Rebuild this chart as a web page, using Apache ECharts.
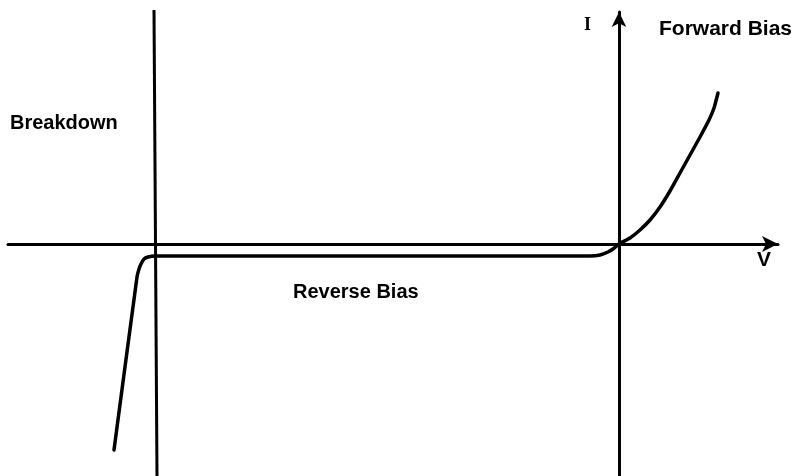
<!DOCTYPE html>
<html>
<head>
<meta charset="utf-8">
<script src="https://cdn.jsdelivr.net/npm/echarts@6/dist/echarts.min.js"></script>
<style>
  html, body { margin: 0; padding: 0; background: #fff; }
  #main { width: 800px; height: 476px; }
</style>
</head>
<body>
<div id="main"></div>
<script type="text/javascript">
// diode I-V curve, units: V to the right, I upward (origin at the I axis)
var curveV = [-50.5, -48.2, -48.0, -47.8, -47.5, -47.1, -46.4, -30.0, -15.0, -5.9, -2.9, -1.9, -1.1, -0.6, 0, 1.1, 2.1, 3.1, 4.1, 5.1, 6.1, 7.1, 8.1, 9.0, 9.5, 9.9];
var curveI = [-20.6, -3.3, -2.5, -2.0, -1.5, -1.3, -1.2, -1.2, -1.2, -1.2, -1.2, -1.1, -0.8, -0.5, 0, 0.6, 1.4, 2.4, 3.7, 5.3, 7.1, 8.9, 10.7, 12.4, 13.6, 15.1];
// breakdown voltage line
var breakdownV = [-46.5, -46.2];
var breakdownI = [23.4, -23.2];

var curveData = curveV.map(function(v, i){ return [v, curveI[i]]; });
var breakdownData = breakdownV.map(function(v, i){ return [v, breakdownI[i]]; });

var myChart = echarts.init(document.getElementById('main'));
var labelFont = '"Liberation Sans", Arial, sans-serif';

myChart.setOption({
    animation: false,
    backgroundColor: '#fff',
    grid: { left: 8, right: 22, top: 12, bottom: 0 },
    xAxis: {
        type: 'value',
        min: -61.1,
        max: 15.9,
        axisLine: {
            onZero: true,
            symbol: ['none', 'arrow'],
            symbolSize: [12, 16],
            lineStyle: { color: '#000', width: 3 }
        },
        axisTick: { show: false },
        axisLabel: { show: false },
        splitLine: { show: false }
    },
    yAxis: {
        type: 'value',
        min: -23.2,
        max: 23.2,
        axisLine: {
            onZero: true,
            symbol: ['none', 'arrow'],
            symbolSize: [11, 15],
            lineStyle: { color: '#000', width: 3 }
        },
        axisTick: { show: false },
        axisLabel: { show: false },
        splitLine: { show: false }
    },
    series: [
        {
            type: 'line',
            data: breakdownData,
            symbol: 'none',
            clip: false,
            lineStyle: { color: '#000', width: 3 }
        },
        {
            type: 'line',
            data: curveData,
            symbol: 'none',
            smooth: 0.15,
            lineStyle: { color: '#000', width: 3.5, cap: 'round' }
        }
    ],
    graphic: [
        { type: 'text', left: 10, top: 113, style: { text: 'Breakdown', font: 'bold 20px ' + labelFont, fill: '#000' } },
        { type: 'text', left: 293, top: 282, style: { text: 'Reverse Bias', font: 'bold 20px ' + labelFont, fill: '#000' } },
        { type: 'text', left: 659, top: 19, style: { text: 'Forward Bias', font: 'bold 21px ' + labelFont, fill: '#000' } },
        { type: 'text', left: 584, top: 16, style: { text: 'I', font: 'bold 18px "Liberation Serif", serif', fill: '#000' } },
        { type: 'text', left: 757, top: 250, style: { text: 'V', font: 'bold 21px ' + labelFont, fill: '#000' } }
    ]
});
</script>
</body>
</html>
